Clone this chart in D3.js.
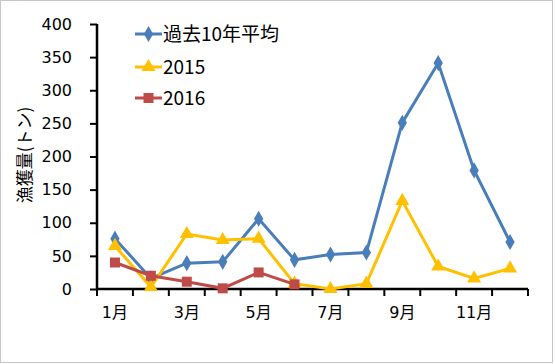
<!DOCTYPE html>
<html><head><meta charset="utf-8">
<script src="https://cdn.jsdelivr.net/npm/d3@7"></script>
<style>body{margin:0;background:#fff}svg{display:block}text{font-family:"DejaVu Sans","Noto Sans CJK JP",sans-serif;fill:#000}</style>
</head><body><svg id="c" width="555" height="364"></svg>
<script>
const months = ["1月","2月","3月","4月","5月","6月","7月","8月","9月","10月","11月","12月"];
const avg10 = [76,16,39,41,106,44,52,55,251,341,179,71];
const y2015 = [65,3,83,74,76,8,0,8,133,34,16,31];
const y2016 = [40,20,11,1,25,7];
const yTicks = [0,50,100,150,200,250,300,350,400];
const seriesNames = ["過去10年平均","2015","2016"];
const colors = ["#4A7EBB","#FFC000","#BE4B48"];

const svg = d3.select("#c");
svg.append("rect").attr("x",0.5).attr("y",0.5).attr("width",552).attr("height",362)
  .attr("fill","#fff").attr("stroke","#8c8c8c").attr("stroke-dasharray","1,1");

const L=97,R=528,T=24,B=289;
const x = d3.scaleBand().domain(months).range([L,R]);
const y = d3.scaleLinear().domain([0,400]).range([B,T]);

const yAx = svg.append("g").attr("transform",`translate(${L},0)`)
  .call(d3.axisLeft(y).tickValues(yTicks).tickSize(7).tickPadding(18));
const xAx = svg.append("g").attr("transform",`translate(0,${B})`)
  .call(d3.axisBottom(x).tickSize(0).tickPadding(18).tickFormat((d,i)=> i%2===0 ? d : ""));
const bounds = months.map(m=>x(m)).concat([R]);
svg.append("g").selectAll("line").data(bounds).join("line")
  .attr("x1",d=>d).attr("x2",d=>d).attr("y1",B).attr("y2",B+7)
  .attr("stroke","#000").attr("stroke-width",2);
[yAx,xAx].forEach(g=>{
  g.selectAll(".domain").attr("stroke","#000").attr("stroke-width",2.5);
  g.selectAll(".tick line").attr("stroke","#000").attr("stroke-width",2);
  g.selectAll("text").attr("font-size",16).attr("fill","#000");
});
xAx.select(".domain").attr("d",`M${L},0H${R}`);
yAx.select(".domain").attr("d",`M0,${B}V${T}`);

svg.append("text").attr("transform","translate(31,155) rotate(-90)")
  .attr("text-anchor","middle").attr("font-size",17)
  .style("font-family",'"Noto Sans CJK JP",sans-serif').text("漁獲量(トン)");

const cx = m=>x(m)+x.bandwidth()/2;
const data=[avg10,y2015,y2016];
const shapes=[d3.symbolDiamond,d3.symbolTriangle,d3.symbolSquare];
const sizes=[75,85,100];
const line = d3.line().x((d,i)=>cx(months[i])).y(d=>y(d));
data.forEach((s,k)=>{
  svg.append("path").attr("d",line(s)).attr("fill","none").attr("stroke",colors[k]).attr("stroke-width",3);
  svg.append("g").selectAll("path").data(s).join("path")
    .attr("transform",(d,i)=>`translate(${cx(months[i])},${y(d)})`)
    .attr("d",d3.symbol().type(shapes[k]).size(sizes[k])).attr("fill",colors[k]);
});
const ly=[34,67,98];
seriesNames.forEach((n,k)=>{
  const g=svg.append("g").attr("transform",`translate(135,${ly[k]})`);
  g.append("line").attr("x1",0).attr("x2",27).attr("stroke",colors[k]).attr("stroke-width",3);
  g.append("path").attr("transform","translate(13.5,0)").attr("d",d3.symbol().type(shapes[k]).size(sizes[k])).attr("fill",colors[k]);
  g.append("text").attr("x",28).attr("dy","0.35em").attr("font-size",19)
    .style("font-family",'"Noto Sans CJK JP",sans-serif').text(n);
});
</script></body></html>
